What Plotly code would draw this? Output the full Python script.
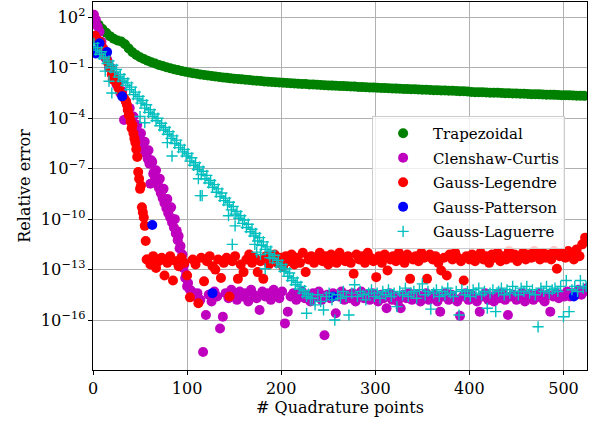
import plotly.graph_objects as go

# ---------------- data (log10 of relative error) ----------------
trap_n = list(range(6, 526, 4))
trap_log = [1.55, 1.30, 1.08, 0.88, 0.72, 0.62, 0.56, 0.40, 0.15, -0.08,
            -0.24, -0.37, -0.48, -0.58, -0.67, -0.75, -0.83, -0.90, -0.97, -1.03,
            -1.09, -1.14, -1.19, -1.24, -1.28, -1.32, -1.36, -1.40, -1.43, -1.46,
            -1.49, -1.52, -1.55, -1.58, -1.60, -1.63, -1.65, -1.67, -1.69, -1.71,
            -1.73, -1.75, -1.77, -1.79, -1.81, -1.83, -1.84, -1.86, -1.87, -1.89,
            -1.90, -1.92, -1.93, -1.95, -1.96, -1.97, -1.99, -2.00, -2.01, -2.02,
            -2.04, -2.05, -2.06, -2.07, -2.08, -2.09, -2.10, -2.11, -2.12, -2.14,
            -2.15, -2.16, -2.17, -2.18, -2.19, -2.20, -2.21, -2.22, -2.23, -2.24,
            -2.25, -2.26, -2.27, -2.28, -2.28, -2.29, -2.30, -2.31, -2.32, -2.33,
            -2.34, -2.35, -2.35, -2.36, -2.37, -2.38, -2.39, -2.40, -2.41, -2.44,
            -2.45, -2.45, -2.46, -2.47, -2.48, -2.49, -2.49, -2.50, -2.51, -2.52,
            -2.53, -2.53, -2.54, -2.55, -2.56, -2.57, -2.57, -2.58, -2.59, -2.60,
            -2.60, -2.61, -2.62, -2.63, -2.63, -2.64, -2.65, -2.66, -2.66, -2.67]

cc_n = [1, 3, 5, 7, 9, 11, 13, 15, 17, 19, 21, 23, 25, 27, 29, 31, 33, 35, 37, 39,
        41, 43, 45, 47, 49, 51, 53, 55, 57, 59, 61, 62, 63, 65, 67, 69, 71, 73, 75, 77,
        79, 81, 83, 85, 87, 89, 91, 93, 95, 97, 99, 101, 103] + list(range(105, 526, 3)) + \
    [42, 44, 46, 48, 50, 52, 54, 56, 58, 60, 64, 66, 68, 70, 72, 74, 76, 78, 80, 82,
     84, 86, 88, 90, 92, 94, 96, 98, 100]
cc_log = [2.15, 1.85, 1.45, 1.15, 0.55, 0.15, -0.40, -0.50, -1.00, -1.00,
          -1.50, -1.50, -2.00, -2.00, -2.50, -2.40, -4.10, -3.00, -3.50, -3.40,
          -4.00, -3.90, -4.50, -4.40, -5.00, -4.90, -5.50, -5.40, -6.10, -5.90,
          -7.90, -6.50, -6.60, -7.20, -7.10, -7.80, -7.60, -8.30, -8.20, -8.90,
          -8.80, -9.40, -9.30, -10.00, -10.00, -10.70, -11.00, -11.60, -12.10, -12.70,
          -13.30, -13.80, -14.20,
          # plateau 105..525 step 3
          -14.3, -14.6, -14.4, -14.8, -17.9, -15.7, -14.5, -14.9, -14.3, -14.6,
          -16.5, -15.8, -14.4, -14.7, -14.2, -14.5, -14.8, -14.3, -14.6, -14.4,
          -14.9, -14.2, -14.5, -14.7, -15.4, -14.3, -14.6, -14.4, -14.8, -14.2,
          -14.5, -14.7, -14.3, -16.2, -15.5, -14.6, -14.4, -14.8, -14.5, -14.3,
          -14.7, -14.5, -14.9, -14.4, -14.6, -14.3, -14.8, -16.9, -14.5, -14.7,
          -14.4, -15.6, -14.6, -14.3, -14.8, -14.5, -14.7, -14.4, -14.9, -14.6,
          -14.3, -14.7, -14.5, -14.8, -14.4, -14.6, -14.9, -14.5, -14.7, -15.3,
          -14.4, -14.8, -14.6, -14.9, -15.3, -14.5, -14.7, -14.4, -14.8, -14.6,
          -14.5, -14.9, -14.7, -14.4, -14.8, -14.6, -14.5, -14.9, -15.5, -14.6,
          -14.4, -14.8, -14.5, -14.7, -14.9, -15.75, -14.6, -14.4, -14.8, -14.5,
          -14.7, -14.9, -15.5, -14.6, -14.4, -14.8, -14.6, -14.9, -14.5, -14.7,
          -14.4, -14.8, -15.7, -14.6, -14.5, -14.8, -14.6, -14.4, -14.9, -14.7,
          -14.5, -14.8, -14.6, -14.4, -14.7, -14.9, -14.5, -15.5, -14.6, -14.4,
          -14.7, -14.5, -14.6, -14.3, -14.6, -14.4, -14.5, -14.2, -14.5, -14.3,
          -14.1,
          # lower edge of the decaying band
          -4.25, -4.5, -4.75, -5.0, -5.3, -5.55, -5.85, -6.1, -6.4, -6.7,
          -7.3, -7.55, -7.9, -8.15, -8.45, -8.75, -9.05, -9.35, -9.65, -9.9,
          -10.2, -10.5, -10.85, -11.25, -11.75, -12.3, -12.9, -13.5, -14.0]

gl_n = [2, 4, 6, 8, 10, 12, 14, 16, 18, 20, 21, 23, 25, 27, 29, 31, 33, 35, 36, 37,
        38, 39, 40, 41, 42, 43, 44, 45, 46, 47, 48, 49, 50, 51, 52, 53, 54, 55, 56, 57] \
    + list(range(58, 524, 3))
gl_log = [0.9, 0.7, 0.6, 0.5, 0.2, -0.1, -0.4, -0.7, -1.0, -1.4,
          -1.7, -1.6, -1.9, -2.2, -2.4, -2.6, -2.8, -3.0, -3.2, -3.5,
          -3.8, -3.9, -4.2, -4.6, -4.4, -4.9, -5.2, -5.45, -5.85, -6.3,
          -7.2, -7.6, -8.2, -8.0, -9.3, -9.6, -9.9, -10.4, -11.3, -12.4,
          # plateau 58..523 step 3
          -12.4, -12.7, -12.2, -12.9, -12.5, -12.3, -13.35, -12.6, -12.2, -13.65,
          -12.5, -12.8, -12.3, -12.6, -13.35, -14.65, -12.4, -12.7, -15.0, -12.3,
          -13.7, -12.5, -12.2, -12.8, -13.0, -12.4, -13.5, -12.6, -12.3, -14.6,
          -12.5, -12.2, -13.55, -12.7, -13.15, -12.4, -12.1, -12.6, -12.3, -13.15,
          -12.5, -13.55, -12.2, -12.7, -12.4, -12.1, -12.6, -12.3, -12.8, -12.2,
          -12.5, -12.1, -12.7, -12.3, -12.6, -12.0, -13.15, -12.4, -12.2, -12.6,
          -12.3, -12.0, -12.5, -12.2, -12.7, -12.1, -12.4, -12.6, -12.0, -12.3,
          -12.5, -12.2, -12.6, -13.25, -12.1, -12.4, -12.2, -12.6, -12.0, -12.3,
          -12.5, -13.45, -12.2, -12.6, -12.1, -13.05, -12.4, -12.2, -12.5, -12.0,
          -12.3, -12.6, -12.1, -13.55, -12.4, -12.2, -12.5, -12.0, -12.3, -13.55,
          -12.1, -12.4, -12.2, -12.6, -13.05, -12.3, -13.35, -12.1, -12.4, -12.0,
          -12.3, -12.5, -13.65, -12.2, -12.4, -12.1, -12.5, -12.3, -12.0, -12.4,
          -12.2, -12.6, -12.1, -12.3, -12.0, -12.5, -12.2, -12.4, -11.9, -12.3,
          -12.1, -12.5, -12.2, -12.0, -12.4, -12.1, -12.3, -11.9, -12.2, -12.4,
          -12.0, -12.3, -12.1, -12.4, -11.9, -12.95, -12.2, -12.0, -12.3, -11.9,
          -12.1, -12.4, -11.8, -12.2, -11.5, -11.1]

gp_n = [1, 3, 7, 15, 31, 63, 127, 255, 511]
gp_log = [0.0, -0.15, 0.46, -0.07, -2.7, -10.35, -14.4, -14.6, -14.6]

lag_n = list(range(1, 232, 2)) + list(range(233, 525, 3)) + \
    [13, 17, 20, 50, 55, 79, 84, 112, 114, 116, 144, 148, 151, 172, 174, 178, 183, 188, 227]
lag_log = [0.45, 0.05, 0.2, -0.2, -0.05, -0.45, -0.35, -0.75, -0.6, -1.0,
           -0.85, -1.25, -1.1, -1.55, -1.4, -1.8, -1.65, -2.05, -1.9, -2.3,
           -2.15, -2.6, -2.45, -2.85, -2.7, -3.1, -2.95, -3.4, -3.2, -3.65,
           -3.5, -3.9, -3.75, -4.15, -4.0, -4.45, -4.3, -4.7, -4.55, -4.95,
           -4.8, -5.2, -5.05, -5.5, -5.3, -5.75, -5.6, -6.0, -5.85, -6.25,
           -6.1, -6.55, -6.35, -6.8, -6.65, -7.05, -6.9, -7.35, -7.15, -7.6,
           -7.4, -7.85, -7.7, -8.1, -7.95, -8.4, -8.2, -8.65, -8.45, -8.9,
           -8.75, -9.15, -9.0, -9.45, -9.25, -9.7, -9.55, -9.95, -9.8, -10.25,
           -10.05, -10.5, -10.3, -10.75, -10.6, -11.0, -10.85, -11.3, -11.1, -11.55,
           -11.35, -11.8, -11.65, -12.05, -11.9, -12.35, -12.15, -12.6, -12.45, -12.85,
           -12.7, -13.1, -12.95, -13.4, -13.2, -13.65, -13.5, -13.9, -13.75, -14.15,
           -14.0, -14.4, -14.25, -14.6, -14.45, -14.7,
           # plateau 233..524 step 3
           -14.7, -15.1, -14.5, -14.9, -15.4, -14.6, -14.4, -14.8, -16.0, -14.5,
           -14.7, -14.3, -14.6, -15.7, -14.4, -13.9, -14.6, -14.3, -14.5, -14.8,
           -14.4, -14.2, -14.6, -14.4, -14.7, -14.3, -14.5, -14.2, -14.6, -14.4,
           -15.2, -14.3, -14.5, -14.1, -14.6, -14.4, -14.3, -14.7, -14.2, -13.85,
           -14.5, -14.3, -15.35, -14.4, -14.2, -14.6, -14.3, -14.5, -14.1, -14.4,
           -14.6, -14.3, -15.7, -14.2, -14.5, -14.3, -14.6, -14.2, -14.4, -14.1,
           -14.5, -14.3, -15.3, -14.4, -14.2, -15.5, -14.3, -14.1, -14.5, -14.2,
           -14.4, -14.0, -14.3, -14.5, -14.1, -14.3, -14.0, -14.4, -14.2, -14.5,
           -16.4, -14.1, -14.3, -14.0, -14.4, -14.2, -14.1, -14.3, -14.0, -15.8,
           -13.65, -15.5, -14.2, -14.0, -14.3, -13.65, -14.1, -14.0,
           # scattered points below the decaying band
           -1.2, -1.8, -2.5, -3.9, -4.27, -5.45, -6.25, -7.6, -8.6, -8.6,
           -9.8, -11.5, -10.4, -11.5, -11.96, -12.1, -12.95, -12.3, -15.6]

names = ["Trapezoidal", "Clenshaw-Curtis", "Gauss-Legendre", "Gauss-Patterson", "Gauss-Laguerre"]
colors = ["#008000", "#bf00bf", "#ff0000", "#0000ff", "#00bfbf"]


def pw(vals):
    return [10 ** v for v in vals]


series = [(trap_n, trap_log), (cc_n, cc_log), (gl_n, gl_log), (gp_n, gp_log), (lag_n, lag_log)]

fig = go.Figure()
for i, ((xs, ls), name, col) in enumerate(zip(series, names, colors)):
    if name == "Gauss-Laguerre":
        marker = dict(symbol="cross-thin", size=8, color=col,
                      line=dict(color=col, width=1.4))
    else:
        marker = dict(symbol="circle", size=10, color=col, line=dict(width=0))
    fig.add_trace(go.Scatter(x=xs, y=pw(ls), mode="markers", name=name,
                             legendgroup=f"g{i}", marker=marker))

font_family = "DejaVu Serif"
fig.update_layout(
    width=589, height=427,
    margin=dict(l=93, r=2, t=2, b=57),
    paper_bgcolor="white", plot_bgcolor="white",
    font=dict(family=font_family, size=16, color="black"),
    showlegend=True,
    legend=dict(x=0.565, y=0.69, xanchor="left", yanchor="top",
                bgcolor="rgba(255,255,255,0.8)", bordercolor="#cccccc", borderwidth=1,
                font=dict(family=font_family, size=15, color="black"),
                traceorder="grouped", tracegroupgap=2, itemwidth=50),
)
fig.update_xaxes(range=[0, 525], tickvals=[0, 100, 200, 300, 400, 500],
                 automargin=False,
                 tickfont=dict(family=font_family, size=16),
                 showgrid=True, gridcolor="#b0b0b0", gridwidth=1,
                 showline=True, linecolor="black", linewidth=1, mirror=True,
                 ticks="outside", ticklen=4, tickcolor="black", zeroline=False,
                 title=dict(text="# Quadrature points", standoff=4,
                            font=dict(family=font_family, size=16)))
fig.update_yaxes(type="log", range=[-18.97, 2.91], tick0=2, dtick=3,
                 exponentformat="power", automargin=False,
                 tickfont=dict(family=font_family, size=13),
                 showgrid=True, gridcolor="#b0b0b0", gridwidth=1,
                 showline=True, linecolor="black", linewidth=1, mirror=True,
                 ticks="outside", ticklen=4, tickcolor="black", zeroline=False,
                 title=dict(text="Relative error", standoff=6,
                            font=dict(family=font_family, size=16)))

fig.write_html("out.html", config={"displayModeBar": False},
               post_script="document.body.style.margin='0';document.body.style.padding='0';")
